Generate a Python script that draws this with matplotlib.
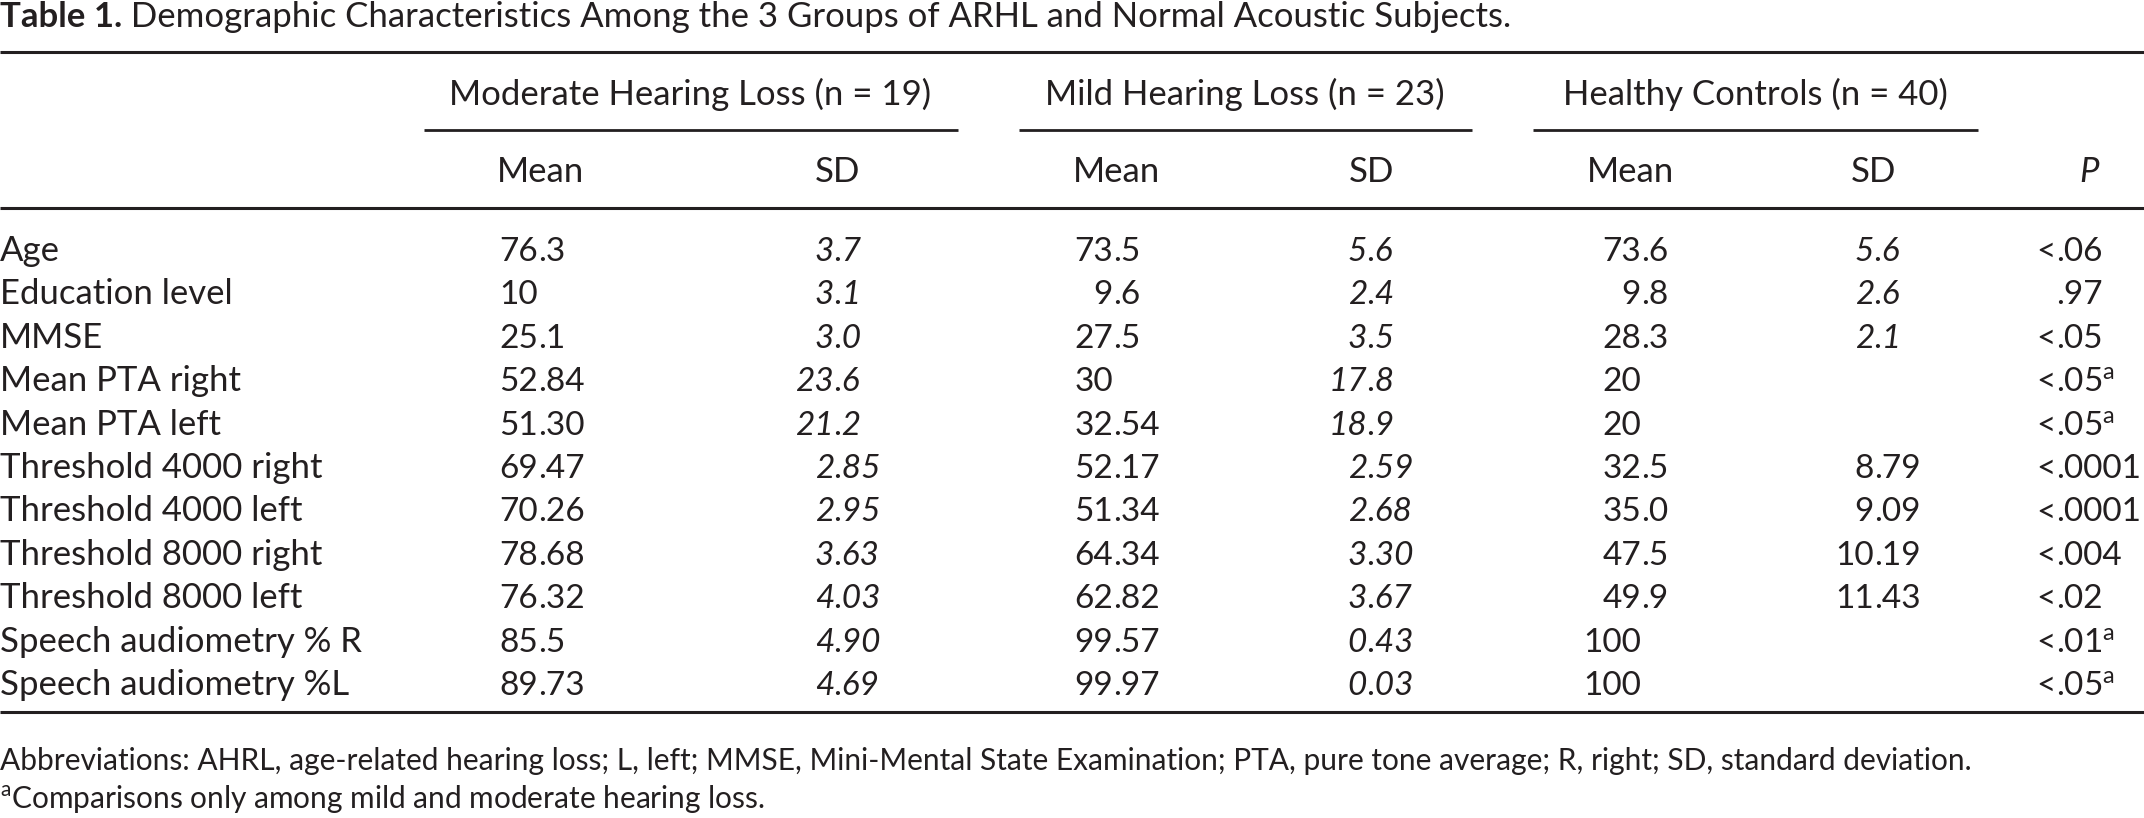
import matplotlib
matplotlib.use('Agg')
import matplotlib.pyplot as plt

# Table 1 data
row_labels = ['Age', 'Education level', 'MMSE', 'Mean PTA right', 'Mean PTA left',
              'Threshold 4000 right', 'Threshold 4000 left', 'Threshold 8000 right',
              'Threshold 8000 left', 'Speech audiometry % R', 'Speech audiometry %L']
mod_mean = ['76.3', '10', '25.1', '52.84', '51.30', '69.47', '70.26', '78.68', '76.32', '85.5', '89.73']
mod_sd = ['3.7', '3.1', '3.0', '23.6', '21.2', '2.85', '2.95', '3.63', '4.03', '4.90', '4.69']
mild_mean = ['73.5', '9.6', '27.5', '30', '32.54', '52.17', '51.34', '64.34', '62.82', '99.57', '99.97']
mild_sd = ['5.6', '2.4', '3.5', '17.8', '18.9', '2.59', '2.68', '3.30', '3.67', '0.43', '0.03']
hc_mean = ['73.6', '9.8', '28.3', '20', '20', '32.5', '35.0', '47.5', '49.9', '100', '100']
hc_sd = ['5.6', '2.6', '2.1', '', '', '8.79', '9.09', '10.19', '11.43', '', '']
hc_sd_italic = [True, True, True, False, False, False, False, False, False, False, False]
p_values = ['<.06', '.97', '<.05', '<.05', '<.05', '<.0001', '<.0001', '<.004', '<.02', '<.01', '<.05']
p_note = [False, False, False, True, True, False, False, False, False, True, True]

groups = ['Moderate Hearing Loss (n = 19)', 'Mild Hearing Loss (n = 23)', 'Healthy Controls (n = 40)']

title_bold = 'Table 1.'
title_rest = ' Demographic Characteristics Among the 3 Groups of ARHL and Normal Acoustic Subjects.'
abbrev = ('Abbreviations: AHRL, age-related hearing loss; L, left; MMSE, Mini-Mental State Examination; '
          'PTA, pure tone average; R, right; SD, standard deviation.')
footnote = r'$^{\mathrm{a}}$Comparisons only among mild and moderate hearing loss.'

# styling
plt.rcParams['font.family'] = ['Lato', 'DejaVu Sans']
plt.rcParams['mathtext.fontset'] = 'custom'
plt.rcParams['mathtext.rm'] = 'Lato'
plt.rcParams['mathtext.bf'] = 'Lato:bold'
plt.rcParams['mathtext.it'] = 'Lato:italic'
ink = '#231f20'
fs = 25
fs_num = 24
fs_small = 21.5

fig = plt.figure(figsize=(21.44, 8.18), dpi=100)
ax = fig.add_axes([0, 0, 1, 1])
ax.set_xlim(0, 2144)
ax.set_ylim(818, 0)
ax.axis('off')


def put(x, y, s, ha='left', style='normal', size=fs, weight='normal'):
    return ax.text(x, y, s, ha=ha, va='baseline', fontsize=size, style=style,
                   weight=weight, color=ink)


def put_dec(x, y, s, style='normal', sup=False):
    # align numbers on the decimal point
    if '.' in s:
        left, right = s.split('.', 1)
        right = '.' + right
    else:
        left, right = s, ''
    if sup:
        right += r'$^{\mathrm{a}}$'
    if left:
        put(x, y, left, ha='right', style=style, size=fs_num)
    if right:
        put(x, y, right, ha='left', style=style, size=fs_num)


# title: bold part, then regular part right after it
tb = put(0, 27, title_bold, weight='bold')
renderer = fig.canvas.get_renderer()
bb = tb.get_window_extent(renderer=renderer)
x_end = ax.transData.inverted().transform((bb.x1, bb.y0))[0]
put(x_end, 27, title_rest)

# rules
ax.hlines([52, 208, 712], 0, 2144, color=ink, lw=2.2)

# group headers
group_x = [690, 1245, 1755]
group_lines = [(424, 958), (1019, 1472), (1533, 1978)]
for g, gx, (x0, x1) in zip(groups, group_x, group_lines):
    put(gx, 105, g, ha='center')
    ax.hlines(130, x0, x1, color=ink, lw=2.0)

for mx in [541, 1117, 1630]:
    put(mx, 182, 'Mean', ha='center')
for sx in [838, 1372, 1873]:
    put(sx, 182, 'SD', ha='center')
put(2089, 182, 'P', ha='center', style='italic')

# body rows
y0, dy = 261, 43.4
for i, lab in enumerate(row_labels):
    y = y0 + i * dy
    put(0, y, lab)
    put_dec(538, y, mod_mean[i])
    put_dec(834, y, mod_sd[i], style='italic')
    put_dec(1113, y, mild_mean[i])
    put_dec(1367, y, mild_sd[i], style='italic')
    put_dec(1641, y, hc_mean[i])
    if hc_sd[i]:
        put_dec(1874, y, hc_sd[i], style='italic' if hc_sd_italic[i] else 'normal')
    put_dec(2056, y, p_values[i], sup=p_note[i])

# footer
put(0, 770, abbrev, size=fs_small)
put(0, 808, footnote, size=fs_small)

fig.savefig('out.png', dpi=100)
